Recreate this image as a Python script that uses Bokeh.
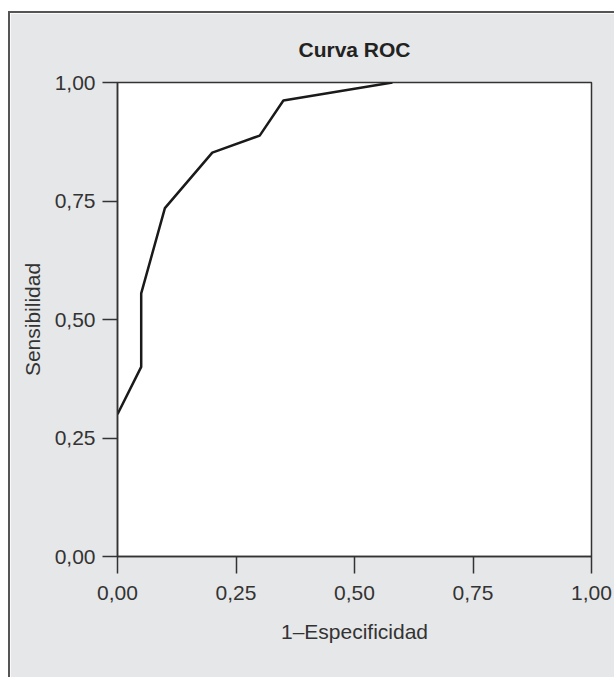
from bokeh.plotting import figure
from bokeh.models import FixedTicker, Range1d
from bokeh.embed import file_html
from bokeh.resources import INLINE

# ROC curve data
fpr = [0.0, 0.05, 0.05, 0.10, 0.20, 0.30, 0.35, 0.58]
tpr = [0.30, 0.40, 0.555, 0.735, 0.852, 0.888, 0.962, 1.0]
tick_vals = [0.0, 0.25, 0.5, 0.75, 1.0]
tick_labels = ["0,00", "0,25", "0,50", "0,75", "1,00"]

BG = "#e6e7e8"
TXT = "#333333"
FONT = "Liberation Sans"

p = figure(frame_width=474, frame_height=474,
           min_border_left=107, min_border_right=23,
           min_border_top=69, min_border_bottom=121,
           x_range=Range1d(0, 1), y_range=Range1d(0, 1),
           output_backend="svg", toolbar_location=None,
           title="Curva ROC")
p.styles = {"margin-top": "11px", "margin-left": "8px",
            "border-left": "2px solid #555555",
            "border-top": "2px solid #555555"}

p.background_fill_color = "white"
p.border_fill_color = BG
p.outline_line_color = TXT
p.outline_line_width = 1.5
p.grid.visible = False

p.title.align = "center"
p.title.text_font = FONT
p.title.text_font_size = "21px"
p.title.text_font_style = "bold"
p.title.text_color = "#222222"
p.title.standoff = 43

for ax in (p.xaxis[0], p.yaxis[0]):
    ax.ticker = FixedTicker(ticks=tick_vals)
    ax.major_label_overrides = {v: l for v, l in zip(tick_vals, tick_labels)}
    ax.major_label_text_font = FONT
    ax.major_label_text_font_size = "21px"
    ax.major_label_text_color = TXT
    ax.axis_label_text_font = FONT
    ax.axis_label_text_font_size = "21px"
    ax.axis_label_text_font_style = "normal"
    ax.axis_label_text_color = TXT
    ax.axis_line_color = TXT
    ax.axis_line_width = 1.5
    ax.major_tick_line_color = TXT
    ax.major_tick_line_width = 1.5
    ax.major_tick_in = 0
    ax.minor_tick_line_color = None

p.xaxis.major_tick_out = 17
p.yaxis.major_tick_out = 15
p.xaxis.major_label_standoff = 12
p.yaxis.major_label_standoff = 7
p.xaxis.axis_label = "1\u2013Especificidad"
p.yaxis.axis_label = "Sensibilidad"
p.xaxis.axis_label_standoff = 17
p.yaxis.axis_label_standoff = 8

p.line(fpr, tpr, line_color="#1a1a1a", line_width=2.5)

open("out.html", "w").write(file_html(p, INLINE))
